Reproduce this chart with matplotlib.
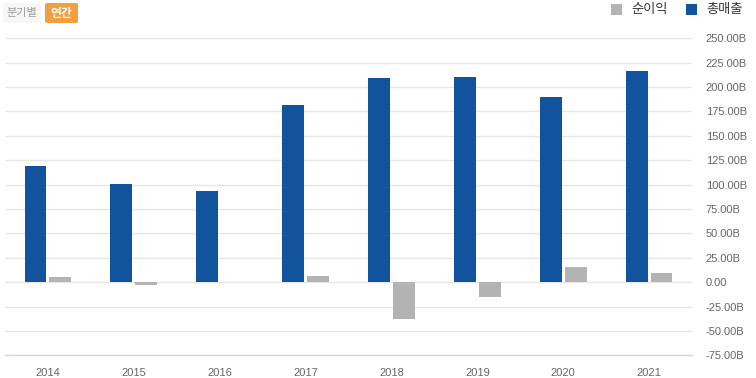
import numpy as np
import matplotlib
matplotlib.use("Agg")
import matplotlib.pyplot as plt
from matplotlib.patches import FancyBboxPatch, Rectangle

plt.rcParams['font.family'] = ['Liberation Sans', 'Noto Sans CJK KR', 'DejaVu Sans']

years = ["2014", "2015", "2016", "2017", "2018", "2019", "2020", "2021"]
revenue = [119.1, 100.3, 93.1, 181.5, 209.6, 210.6, 189.8, 216.8]   # 총매출 (B)
net_income = [4.9, -3.1, 0.0, 5.9, -38.2, -15.5, 15.2, 9.0]        # 순이익 (B)
yticks = [-75, -50, -25, 0, 25, 50, 75, 100, 125, 150, 175, 200, 225, 250]

blue = "#11539c"
gray = "#b3b3b3"
W, H = 756, 378

fig = plt.figure(figsize=(W / 100, H / 100), dpi=100)
ax = fig.add_axes([5 / W, 1 - 355.3 / H, 687 / W, (355.3 - 38.3) / H])

x = np.arange(len(years))
bw = 0.255
ax.bar(x - 0.145, revenue, bw, color=blue, zorder=3)
ax.bar(x + 0.145, net_income, bw, color=gray, zorder=3)

ax.set_xlim(-0.5, len(years) - 0.5)
ax.set_ylim(-75, 250)
ax.set_yticks(yticks)
ax.set_yticklabels(["0.00" if v == 0 else f"{v:.2f}B" for v in yticks])
ax.yaxis.tick_right()
ax.set_xticks(x)
ax.set_xticklabels(years)
ax.tick_params(axis='y', length=0, pad=10, labelsize=8, labelcolor="#666666")
ax.tick_params(axis='x', length=0, pad=9, labelsize=8, labelcolor="#666666")
ax.grid(axis='y', color="#e6e6e6", linewidth=1, zorder=0)
for s in ["top", "left", "right"]:
    ax.spines[s].set_visible(False)
ax.spines["bottom"].set_color("#ccd6eb")
ax.spines["bottom"].set_linewidth(1)

# period buttons
def fbox(x0, y0, w, h, fc):
    p = FancyBboxPatch((x0 / W, 1 - (y0 + h) / H), w / W, h / H,
                       boxstyle="round,pad=0,rounding_size=0.004",
                       transform=fig.transFigure, fc=fc, ec="none")
    fig.patches.append(p)

fbox(3, 3, 38, 20, "#f7f7f7")
fbox(45, 3, 33, 20, "#f0a040")
fig.text(22 / W, 1 - 13 / H, "분기별", ha="center", va="center", fontsize=8,
         color="#999999", family=['Noto Sans CJK KR', 'DejaVu Sans'])
fig.text(61.5 / W, 1 - 13 / H, "연간", ha="center", va="center", fontsize=8.5,
         color="white", weight="bold", family=['Noto Sans CJK KR', 'DejaVu Sans'])

# legend
for sx, tx, col, lab in [(611, 631, gray, "순이익"), (686, 706, blue, "총매출")]:
    fig.patches.append(Rectangle((sx / W, 1 - 14.5 / H), 11 / W, 11 / H,
                                 transform=fig.transFigure, fc=col, ec="none"))
    fig.text(tx / W, 1 - 9 / H, lab, ha="left", va="center", fontsize=9.5,
             color="#333333", family=['Noto Sans CJK KR', 'DejaVu Sans'])

fig.savefig("out.png", dpi=100)
